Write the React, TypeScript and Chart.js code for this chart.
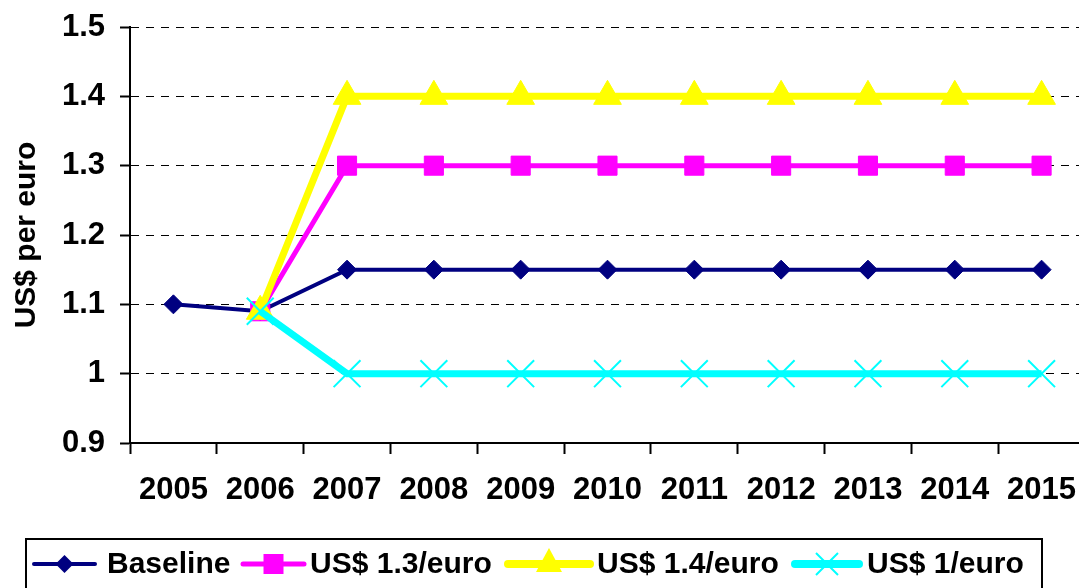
import React, { useEffect, useRef } from 'react';
import { Chart, registerables } from 'chart.js';

Chart.register(...registerables);

const years = ['2005', '2006', '2007', '2008', '2009', '2010', '2011', '2012', '2013', '2014', '2015'];
const baseline = [1.1, 1.09, 1.15, 1.15, 1.15, 1.15, 1.15, 1.15, 1.15, 1.15, 1.15];
const usd13 = [null, 1.09, 1.3, 1.3, 1.3, 1.3, 1.3, 1.3, 1.3, 1.3, 1.3];
const usd14 = [null, 1.09, 1.4, 1.4, 1.4, 1.4, 1.4, 1.4, 1.4, 1.4, 1.4];
const usd1 = [null, 1.09, 1.0, 1.0, 1.0, 1.0, 1.0, 1.0, 1.0, 1.0, 1.0];
const seriesLabels = ['Baseline', 'US$ 1.3/euro', 'US$ 1.4/euro', 'US$ 1/euro'];
const seriesColors = ['#000080', '#FF00FF', '#FFFF00', '#00FFFF'];
const yAxisTitle = 'US$ per euro';
const yMin = 0.9;
const yMax = 1.5;
const yStep = 0.1;

const FONT = '"Liberation Sans", Arial, Helvetica, sans-serif';
const CANVAS_W = 1100;
const CANVAS_H = 588;

const legendPlugin = {
  id: 'boxLegend',
  afterDraw(chart: any) {
    const ctx = chart.ctx as CanvasRenderingContext2D;
    ctx.save();
    ctx.lineWidth = 2;
    ctx.strokeStyle = '#000';
    ctx.strokeRect(26, 539, 1016, 80);
    const lineStarts = [34, 243, 508, 795];
    const lineLens = [61, 61, 82, 64];
    const textStarts = [107, 310, 597, 867];
    const lineWidths = [4, 5, 8, 8];
    const cy = 564;
    ctx.font = `bold 30px ${FONT}`;
    ctx.textBaseline = 'middle';
    ctx.textAlign = 'left';
    seriesLabels.forEach((label, i) => {
      const c = seriesColors[i];
      const x0 = lineStarts[i];
      const x1 = x0 + lineLens[i];
      ctx.strokeStyle = c;
      ctx.fillStyle = c;
      ctx.lineWidth = lineWidths[i];
      ctx.lineCap = 'round';
      ctx.beginPath();
      ctx.moveTo(x0, cy);
      ctx.lineTo(x1, cy);
      ctx.stroke();
      const mx = (x0 + x1) / 2;
      ctx.beginPath();
      if (i === 0) {
        const r = 9;
        ctx.moveTo(mx, cy - r);
        ctx.lineTo(mx + r, cy);
        ctx.lineTo(mx, cy + r);
        ctx.lineTo(mx - r, cy);
        ctx.closePath();
        ctx.fill();
      } else if (i === 1) {
        ctx.rect(mx - 10, cy - 10, 20, 20);
        ctx.fill();
      } else if (i === 2) {
        ctx.moveTo(mx, cy - 16);
        ctx.lineTo(mx + 13, cy + 8);
        ctx.lineTo(mx - 13, cy + 8);
        ctx.closePath();
        ctx.fill();
      } else {
        const r = 11;
        ctx.lineWidth = 2;
        ctx.lineCap = 'butt';
        ctx.moveTo(mx - r, cy - r);
        ctx.lineTo(mx + r, cy + r);
        ctx.moveTo(mx + r, cy - r);
        ctx.lineTo(mx - r, cy + r);
        ctx.stroke();
      }
      ctx.fillStyle = '#000';
      ctx.fillText(label, textStarts[i], cy + 1);
    });
    ctx.restore();
  },
};

export default function App() {
  const canvasRef = useRef<HTMLCanvasElement | null>(null);

  useEffect(() => {
    document.body.style.overflow = 'hidden';
    const canvas = canvasRef.current;
    if (!canvas) return;
    const chart = new Chart(canvas, {
      type: 'line',
      data: {
        labels: years,
        datasets: [
          {
            label: seriesLabels[0],
            data: baseline,
            borderColor: seriesColors[0],
            backgroundColor: seriesColors[0],
            borderWidth: 4,
            pointStyle: 'rectRot',
            pointRadius: 9.5,
            pointBorderWidth: 1,
            pointBorderColor: seriesColors[0],
            pointBackgroundColor: seriesColors[0],
            order: 4,
          },
          {
            label: seriesLabels[1],
            data: usd13,
            borderColor: seriesColors[1],
            backgroundColor: seriesColors[1],
            borderWidth: 5,
            pointStyle: 'rect',
            pointRadius: 13.5,
            pointBorderWidth: 1,
            pointBorderColor: seriesColors[1],
            pointBackgroundColor: seriesColors[1],
            order: 3,
          },
          {
            label: seriesLabels[2],
            data: usd14,
            borderColor: seriesColors[2],
            backgroundColor: seriesColors[2],
            borderWidth: 7,
            pointStyle: 'triangle',
            pointRadius: 16,
            pointBorderWidth: 1,
            pointBorderColor: seriesColors[2],
            pointBackgroundColor: seriesColors[2],
            order: 2,
          },
          {
            label: seriesLabels[3],
            data: usd1,
            borderColor: seriesColors[3],
            backgroundColor: seriesColors[3],
            borderWidth: 7,
            pointStyle: 'crossRot',
            pointRadius: 19,
            pointBorderWidth: 2,
            pointBorderColor: seriesColors[3],
            pointBackgroundColor: seriesColors[3],
            order: 1,
          },
        ],
      },
      options: {
        responsive: false,
        animation: false,
        devicePixelRatio: 1,
        events: [],
        layout: { autoPadding: false, padding: { top: 27, right: CANVAS_W - 1085, bottom: 0, left: 0 } },
        plugins: {
          legend: { display: false },
          tooltip: { enabled: false },
          title: { display: false },
        },
        elements: { line: { tension: 0 } },
        scales: {
          x: {
            type: 'category',
            offset: true,
            grid: {
              offset: true,
              drawOnChartArea: false,
              drawTicks: true,
              tickLength: 11,
              color: '#000',
              tickWidth: 2,
            },
            border: { display: true, color: '#000', width: 2 },
            ticks: {
              color: '#000',
              font: { family: FONT, size: 31, weight: 'bold' },
              padding: 18,
              maxRotation: 0,
              autoSkip: false,
            },
            afterFit: (scale: any) => {
              scale.height = CANVAS_H - 443;
              scale.paddingLeft = 0;
              scale.paddingRight = 0;
            },
          },
          y: {
            min: yMin,
            max: yMax,
            grid: {
              drawOnChartArea: true,
              drawTicks: true,
              tickLength: 10,
              color: '#000',
              lineWidth: 1,
              tickWidth: 2,
            },
            border: { display: true, color: '#000', width: 2, dash: [8, 7] },
            ticks: {
              stepSize: yStep,
              color: '#000',
              padding: 15,
              font: { family: FONT, size: 31, weight: 'bold' },
              callback: (v: any) => String(Math.round(Number(v) * 10) / 10),
            },
            title: {
              display: true,
              text: yAxisTitle,
              color: '#000',
              font: { family: FONT, size: 30, weight: 'bold' },
              padding: { top: 9, bottom: 0 },
            },
            afterFit: (scale: any) => {
              scale.width = 130;
              scale.paddingTop = 0;
              scale.paddingBottom = 0;
            },
          },
        },
      },
      plugins: [legendPlugin],
    });
    return () => {
      chart.destroy();
    };
  }, []);

  return (
    <div style={{ position: 'fixed', left: 0, top: 0, width: CANVAS_W, height: CANVAS_H, background: '#fff' }}>
      <canvas ref={canvasRef} width={CANVAS_W} height={CANVAS_H} style={{ display: 'block', width: CANVAS_W, height: CANVAS_H }} />
    </div>
  );
}
